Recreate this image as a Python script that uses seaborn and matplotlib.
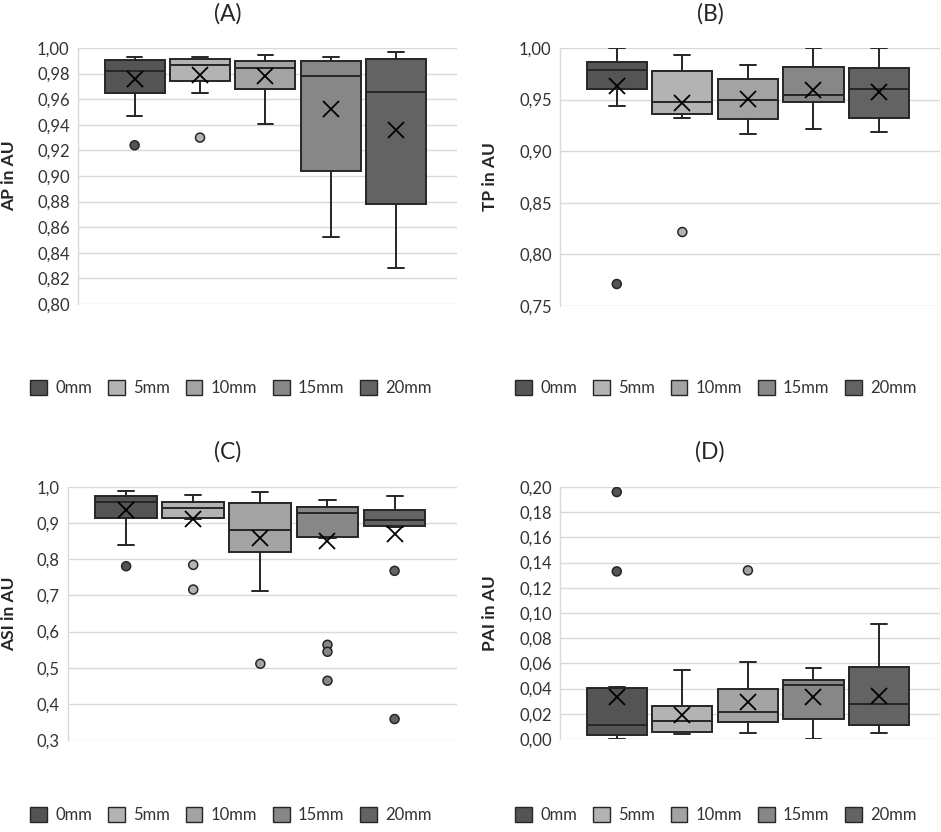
import numpy as np
import pandas as pd
import seaborn as sns
import matplotlib.pyplot as plt
from matplotlib.patches import Patch
from matplotlib.ticker import FuncFormatter

groups = ['0mm', '5mm', '10mm', '15mm', '20mm']
colors = ['#545454', '#b3b3b3', '#a3a3a3', '#878787', '#636363']

# (A) AP
ap_low = [0.947, 0.965, 0.941, 0.852, 0.828]
ap_q1 = [0.965, 0.974, 0.968, 0.904, 0.878]
ap_med = [0.982, 0.9865, 0.9844, 0.978, 0.9656]
ap_q3 = [0.9906, 0.9917, 0.990, 0.990, 0.9911]
ap_high = [0.993, 0.993, 0.9943, 0.9927, 0.9971]
ap_mean = [0.976, 0.979, 0.978, 0.952, 0.936]
ap_out = [[0.924], [0.930], [], [], []]

# (B) TP
tp_low = [0.944, 0.9325, 0.9167, 0.9215, 0.9186]
tp_q1 = [0.9606, 0.936, 0.9315, 0.9477, 0.9325]
tp_med = [0.979, 0.9477, 0.9496, 0.9545, 0.9603]
tp_q3 = [0.9868, 0.9774, 0.9703, 0.9819, 0.9803]
tp_high = [1.000, 0.9929, 0.9838, 1.000, 1.000]
tp_mean = [0.963, 0.9467, 0.9506, 0.9596, 0.957]
tp_out = [[0.7713], [0.8217], [], [], []]

# (C) ASI
asi_low = [0.8407, 0.9107, 0.7117, 0.858, 0.889]
asi_q1 = [0.9153, 0.9153, 0.8195, 0.861, 0.8922]
asi_med = [0.9586, 0.941, 0.882, 0.928, 0.9097]
asi_q3 = [0.976, 0.9576, 0.9558, 0.9457, 0.9374]
asi_high = [0.988, 0.978, 0.987, 0.965, 0.975]
asi_mean = [0.9355, 0.9125, 0.860, 0.851, 0.871]
asi_out = [[0.7808], [0.7845, 0.7163], [0.511], [0.5634, 0.5441, 0.464], [0.768, 0.358]]

# (D) PAI
pai_low = [0.0, 0.0037, 0.0045, 0.0, 0.0045]
pai_q1 = [0.0032, 0.0055, 0.0132, 0.0156, 0.0111]
pai_med = [0.0108, 0.0142, 0.0211, 0.0425, 0.028]
pai_q3 = [0.0404, 0.0264, 0.0396, 0.0472, 0.057]
pai_high = [0.0414, 0.0551, 0.0612, 0.0565, 0.091]
pai_mean = [0.033, 0.019, 0.0296, 0.033, 0.034]
pai_out = [[0.196, 0.133], [], [0.1338], [], []]

panels = [
    ('(A)', 'AP in AU', ap_low, ap_q1, ap_med, ap_q3, ap_high, ap_mean, ap_out, (0.80, 1.00), 0.02, 2),
    ('(B)', 'TP in AU', tp_low, tp_q1, tp_med, tp_q3, tp_high, tp_mean, tp_out, (0.75, 1.00), 0.05, 2),
    ('(C)', 'ASI in AU', asi_low, asi_q1, asi_med, asi_q3, asi_high, asi_mean, asi_out, (0.3, 1.0), 0.1, 1),
    ('(D)', 'PAI in AU', pai_low, pai_q1, pai_med, pai_q3, pai_high, pai_mean, pai_out, (0.0, 0.20), 0.02, 2),
]

sns.set_theme(style='white')
plt.rcParams['font.family'] = ['Lato', 'DejaVu Sans']

fig = plt.figure(figsize=(9.41, 8.32), dpi=100)
W, H = 941, 832
# axes boxes in pixels: left, top, right, bottom
boxes_px = [(78, 48, 457, 304), (560, 48, 940, 306), (68, 487, 457, 740), (560, 487, 940, 739)]
label_x = [17, 498, 17, 498]
title_pos = [(228, 14), (710, 14), (228, 452), (710, 452)]
legend_pos = [(231, 388), (716, 388), (231, 815), (716, 815)]

edge = '#262626'
positions = np.arange(1, len(groups) + 1)

for i, (title, ylab, lo, q1, med, q3, hi, mean, outs, ylim, step, dec) in enumerate(panels):
    l, t, r, b = boxes_px[i]
    ax = fig.add_axes([l / W, 1 - b / H, (r - l) / W, (b - t) / H])

    stats = []
    for k in range(len(groups)):
        stats.append({'whislo': lo[k], 'q1': q1[k], 'med': med[k], 'q3': q3[k],
                      'whishi': hi[k], 'mean': mean[k], 'fliers': [], 'label': groups[k]})
    bp = ax.bxp(stats, positions=positions, widths=0.92, capwidths=0.24,
                showmeans=True, patch_artist=True, showfliers=False,
                boxprops=dict(edgecolor=edge, linewidth=1.4),
                medianprops=dict(color=edge, linewidth=1.4),
                whiskerprops=dict(color=edge, linewidth=1.4),
                capprops=dict(color=edge, linewidth=1.4),
                meanprops=dict(marker='x', markeredgecolor='black', markersize=11,
                               markeredgewidth=1.3))
    for patch, c in zip(bp['boxes'], colors):
        patch.set_facecolor(c)
        patch.set_zorder(2)

    rows = [(positions[k], v, groups[k]) for k in range(len(groups)) for v in outs[k]]
    odf = pd.DataFrame(rows, columns=['pos', 'val', 'group'])
    sns.scatterplot(data=odf, x='pos', y='val', hue='group', hue_order=groups,
                    palette=dict(zip(groups, colors)), s=42, edgecolor=edge,
                    linewidth=1.1, legend=False, zorder=3, ax=ax)

    ax.set_xlim(0.134, 5.93)
    ax.set_ylim(*ylim)
    ax.set_yticks(np.round(np.arange(ylim[0], ylim[1] + step / 2, step), 4))
    ax.yaxis.set_major_formatter(FuncFormatter(lambda v, p, d=dec: f'{v:.{d}f}'.replace('.', ',')))
    ax.set_xticks([])
    ax.set_xlabel('')
    ax.tick_params(axis='y', labelsize=12, colors='#333333', length=0, pad=6)
    ax.grid(axis='y', color='#d9d9d9', linewidth=1.0)
    ax.set_axisbelow(True)
    for s in ['top', 'right', 'bottom']:
        ax.spines[s].set_visible(False)
    ax.spines['left'].set_color('#d9d9d9')
    ax.spines['left'].set_linewidth(1.0)

    ax.set_ylabel(ylab, fontsize=12.5, fontweight='bold', color='#262626')
    ax.yaxis.set_label_coords((label_x[i] - l) / (r - l), 0.5)

    tx, ty = title_pos[i]
    fig.text(tx / W, 1 - ty / H, title, ha='center', va='center', fontsize=16.5, color='#262626')

    handles = [Patch(facecolor=c, edgecolor=edge, linewidth=1.0, label=g) for g, c in zip(groups, colors)]
    lx, ly = legend_pos[i]
    fig.legend(handles=handles, loc='center', bbox_to_anchor=(lx / W, 1 - ly / H), ncol=5,
               frameon=False, fontsize=12, handlelength=1.0, handleheight=1.0,
               handletextpad=0.5, columnspacing=0.95, labelcolor='#333333')

fig.savefig('out.png', dpi=100)
